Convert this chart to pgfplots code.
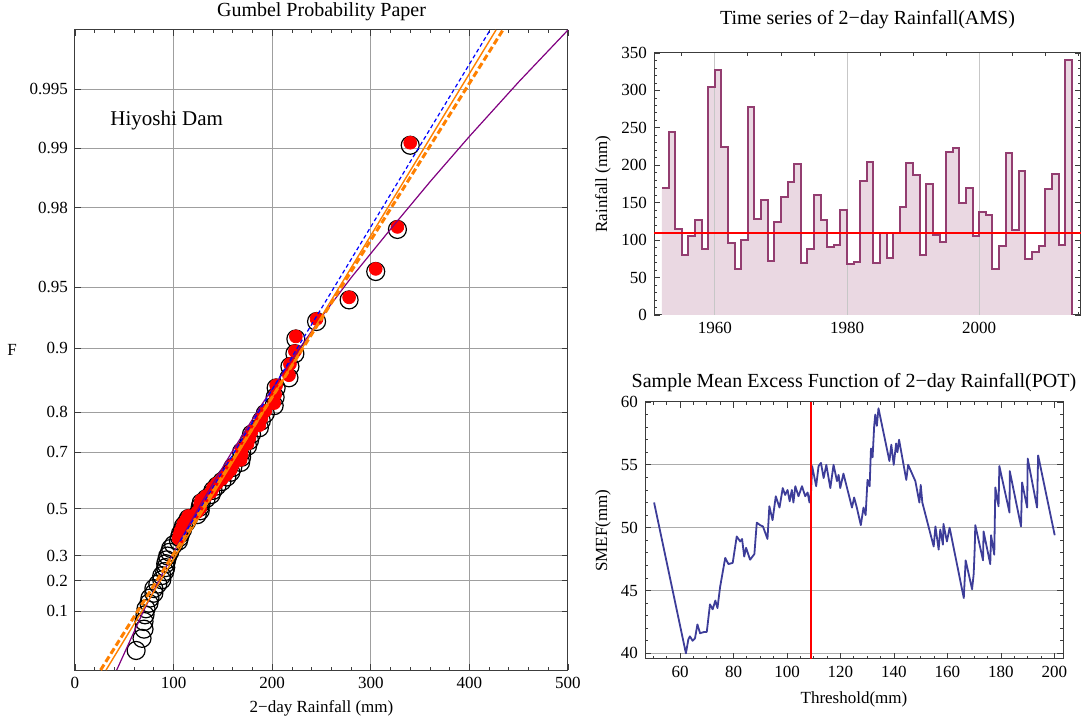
\documentclass[border=0pt]{standalone}
\usepackage{fontspec}
\setmainfont{Liberation Serif}
\usepackage{pgfplots}
\pgfplotsset{compat=1.18}

\definecolor{fitorange}{RGB}{255,128,0}
\definecolor{fitpurple}{RGB}{128,0,128}
\definecolor{steppurple}{RGB}{147,61,112}
\definecolor{stepfill}{RGB}{234,216,226}
\definecolor{smefblue}{RGB}{61,61,153}
\definecolor{framegray}{RGB}{60,60,60}
\definecolor{threshred}{RGB}{255,0,0}

\pgfplotsset{
  mma/.style={
    scale only axis,
    axis line style={framegray, line width=0.5pt},
    tick align=inside,
    xtick pos=both, ytick pos=both,
    xticklabel pos=left, yticklabel pos=left,
    major tick length=2.8pt, minor tick length=1.5pt,
    every tick/.append style={framegray, line width=0.4pt},
    tick label style={font=\fontsize{8.5}{10}\selectfont},
    label style={font=\fontsize{8.5}{10}\selectfont},
    every axis title shift=0pt,
    title style={font=\fontsize{10}{12}\selectfont, anchor=center},
    /pgf/number format/assume math mode=true,
    /pgf/number format/1000 sep={},
    clip marker paths=true,
  },
}

% annual maxima, 2-day rainfall (mm), one value per year
\pgfplotstableread{
year val
1952 169
1953 245
1954 115
1955 80
1956 105
1957 127
1958 88
1959 305
1960 327
1961 224
1962 96
1963 61
1964 100
1965 278
1966 128
1967 154
1968 72
1969 124
1970 158
1971 177
1972 202
1973 70
1974 88
1975 160
1976 127
1977 91
1978 94
1979 140
1980 68
1981 71
1982 179
1983 204
1984 70
1985 109
1986 76
1987 110
1988 144
1989 203
1990 187
1991 80
1992 175
1993 107
1994 97
1995 218
1996 223
1997 149
1998 169
1999 106
2000 138
2001 133
2002 62
2003 92
2004 217
2005 113
2006 193
2007 75
2008 84
2009 92
2010 168
2011 189
2012 93
2013 340
2014 0
}\amsdata

\begin{document}
\begin{tikzpicture}
\path[use as bounding box] (0pt,0pt) rectangle (542pt,-358pt);

% ---------------- Gumbel probability paper ----------------
\begin{axis}[mma,
  at={(37.5pt,-15pt)}, anchor=north west,
  width=246.5pt, height=320pt,
  xmin=0, xmax=500, ymin=-1.527, ymax=5.99,
  xtick={0,100,...,500}, minor x tick num=4,
  ytick={-0.834,-0.476,-0.186,0.3665,1.031,1.5,2.25,2.97,3.902,4.6,5.296},
  yticklabels={0.1,0.2,0.3,0.5,0.7,0.8,0.9,0.95,0.98,0.99,0.995},
  grid=major, major grid style={gray!75, line width=0.5pt},
  title={Gumbel Probability Paper},
  title style={at={(axis description cs:0.5,1.0281)}},
  xlabel={2−day Rainfall (mm)},
  xlabel style={at={(axis description cs:0.5,-0.0594)}, anchor=center},
  ylabel={F},
  ylabel style={at={(axis description cs:-0.1278,0.5)}, anchor=center, rotate=-90},
]
\addplot[only marks, mark=o, mark size=4.5pt, mark options={black, line width=0.6pt}]
coordinates {
(61,-1.5349)(62,-1.2977)(68,-1.1552)(70,-1.0471)(70,-0.9572)(71,-0.8787)
(72,-0.8079)(75,-0.7430)(76,-0.6824)(80,-0.6252)(80,-0.5707)(84,-0.5184)
(88,-0.4679)(88,-0.4189)(91,-0.3711)(92,-0.3243)(92,-0.2784)(93,-0.2331)
(94,-0.1883)(96,-0.1439)(97,-0.0998)(100,-0.0560)(105,-0.0123)(106,0.0314)
(107,0.0752)(109,0.1191)(110,0.1631)(113,0.2075)(115,0.2523)(124,0.2976)
(127,0.3433)(127,0.3898)(128,0.4368)(133,0.4847)(138,0.5334)(140,0.5832)
(144,0.6341)(149,0.6864)(154,0.7400)(158,0.7952)(160,0.8520)(168,0.9108)
(169,0.9718)(169,1.0349)(175,1.1008)(177,1.1699)(179,1.2420)(187,1.3186)
(189,1.3995)(193,1.4855)(202,1.5779)(203,1.6777)(204,1.7862)(217,1.9052)
(218,2.0372)(223,2.1884)(224,2.3609)(245,2.5661)(278,2.8198)(305,3.1535)
(327,3.6474)(340,4.6363)};
\addplot[only marks, mark=*, mark size=3.2pt, mark options={red, draw=red}]
coordinates {
(105,0.018)(106,0.061)(107,0.105)(109,0.149)(110,0.193)(113,0.238)(115,0.282)
(124,0.328)(127,0.373)(127,0.420)(128,0.467)(133,0.515)(138,0.563)(140,0.613)
(144,0.664)(149,0.716)(154,0.770)(158,0.825)(160,0.882)(168,0.941)(169,1.002)
(169,1.065)(175,1.131)(177,1.200)(179,1.272)(187,1.349)(189,1.430)(193,1.516)
(202,1.608)(203,1.708)(204,1.816)(217,1.935)(218,2.067)(223,2.218)(224,2.391)
(245,2.596)(278,2.850)(305,3.184)(327,3.677)(340,4.666)};
\addplot[fitpurple, line width=0.6pt] coordinates {
(42.3,-1.527)(69.5,-0.834)(84.7,-0.483)(105,-0.04)(130,0.47)(160,1.05)
(190,1.60)(220,2.12)(252,2.65)(280,3.08)(320,3.65)(361,4.22)(400,4.74)
(450,5.38)(500,5.99)};
\addplot[fitorange, line width=0.7pt] coordinates {(31.5,-1.527)(427,5.99)};
\addplot[fitorange, line width=1.5pt, dash pattern=on 3.2pt off 1.6pt] coordinates {(26,-1.527)(434,5.99)};
\addplot[blue, line width=0.6pt, dash pattern=on 2pt off 1.4pt] coordinates {(107,-0.01)(421,5.99)};
\node[font=\fontsize{10.5}{12}\selectfont] at (axis cs:93,4.93) {Hiyoshi Dam};
\end{axis}

% ---------------- time series (AMS) ----------------
\begin{axis}[mma,
  at={(327pt,-26.5pt)}, anchor=north west,
  width=213.5pt, height=131pt,
  xmin=1950.8, xmax=2015.4, ymin=0, ymax=350,
  xtick={1960,1980,2000},
  minor xtick={1955,1965,1970,1975,1985,1990,1995,2005,2010,2015},
  ytick={0,50,...,350}, minor y tick num=4,
  title={Time series of 2−day Rainfall(AMS)},
  title style={at={(axis description cs:0.5,1.126)}},
  ylabel={Rainfall (mm)},
  ylabel style={at={(axis description cs:-0.1194,0.5)}, anchor=center},
]
\addplot[const plot mark left, draw=none, fill=stepfill]
  table[x=year, y=val] {\amsdata} \closedcycle;
% vertical grid lines, seen through the shaded area
\addplot[black!22, line width=0.5pt] coordinates {(1960,0)(1960,350)};
\addplot[black!22, line width=0.5pt] coordinates {(1980,0)(1980,350)};
\addplot[black!22, line width=0.5pt] coordinates {(2000,0)(2000,350)};
\addplot[const plot mark left, steppurple, line width=1pt]
  table[x=year, y=val] {\amsdata};
\addplot[threshred, line width=1pt, sharp plot] coordinates {(1950.8,109)(2015.4,109)};
\end{axis}

% ---------------- sample mean excess function ----------------
\begin{axis}[mma,
  at={(322.5pt,-201pt)}, anchor=north west,
  width=209pt, height=128.5pt,
  xmin=46.9, xmax=203.2, ymin=39.55, ymax=60,
  xtick={60,80,...,200}, minor xtick={50,55,...,200},
  ytick={40,45,...,60}, minor ytick={40,41,...,60},
  ymajorgrids, major grid style={gray!65, line width=0.5pt},
  title={Sample Mean Excess Function of 2−day Rainfall(POT)},
  title style={at={(axis description cs:0.5,1.0739)}},
  xlabel={Threshold(mm)},
  xlabel style={at={(axis description cs:0.5,-0.1556)}, anchor=center},
  ylabel={SMEF(mm)},
  ylabel style={at={(axis description cs:-0.1005,0.5)}, anchor=center},
]
\addplot[smefblue, line width=0.9pt, line join=round] coordinates {
(50.3,52.0)(62.2,40.0)(63.1,41.1)(63.7,41.35)(64.7,41.0)(65.6,41.2)(66.5,42.3)
(67.5,41.6)(69.0,41.7)(70.0,41.7)(71.2,43.9)(72.2,43.5)(73.2,44.2)(74.0,43.6)
(75.0,45.3)(76.9,47.6)(78.1,47.1)(79.7,47.2)(81.2,49.3)(82.5,48.9)(83.2,49.1)
(84.0,47.7)(84.7,48.4)(86.2,47.45)(87.8,47.9)(88.7,50.4)(89.95,50.2)(91.0,50.1)
(92.7,49.1)(93.4,51.7)(94.6,50.6)(95.8,52.5)(97.2,51.6)(98.4,53.15)(99.3,52.6)
(100.2,53.0)(101.0,52.1)(101.8,53.0)(102.4,52.0)(103.1,53.3)(104.3,52.5)
(105.6,53.3)(106.8,52.5)(107.7,52.8)(108.4,52.0)(109.0,52.9)(109.4,54.9)
(110.9,53.3)(111.8,54.9)(112.7,55.15)(113.7,53.95)(114.7,55.0)(116.2,53.15)
(117.4,55.0)(118.7,53.7)(119.3,54.2)(119.9,53.15)(121.1,54.3)(124.3,51.6)
(125.1,52.4)(126.1,51.6)(127.6,50.2)(128.6,51.6)(129.4,51.0)(130.1,53.8)
(130.9,53.3)(131.4,56.3)(132.0,55.6)(132.6,58.1)(133.0,59.0)(133.6,58.1)
(134.2,59.5)(138.3,55.3)(139.0,56.6)(139.9,55.0)(140.8,56.7)(141.3,56.0)
(141.9,57.0)(144.6,53.8)(145.3,55.0)(148.0,53.7)(149.5,52.0)(150.0,53.4)
(150.6,52.0)(154.85,48.5)(155.5,50.1)(156.7,48.25)(157.3,49.85)(158.3,48.65)
(158.5,50.3)(159.8,48.9)(160.8,50.0)(166.1,44.4)(166.8,47.4)(169.2,45.1)
(169.8,46.3)(170.2,48.4)(170.4,50.2)(173.3,47.4)(173.5,49.7)(176.0,47.1)
(176.3,49.4)(177.5,47.85)(177.9,53.2)(179.1,51.7)(179.4,54.9)(183.2,51.2)
(183.3,54.5)(187.5,50.1)(187.9,53.6)(189.8,51.6)(190.0,55.5)(193.5,51.6)
(193.9,55.75)(200.1,49.4)};
\addplot[threshred, line width=0.6pt] coordinates {(109,39.55)(109,60)};
\end{axis}
\end{tikzpicture}
\end{document}
